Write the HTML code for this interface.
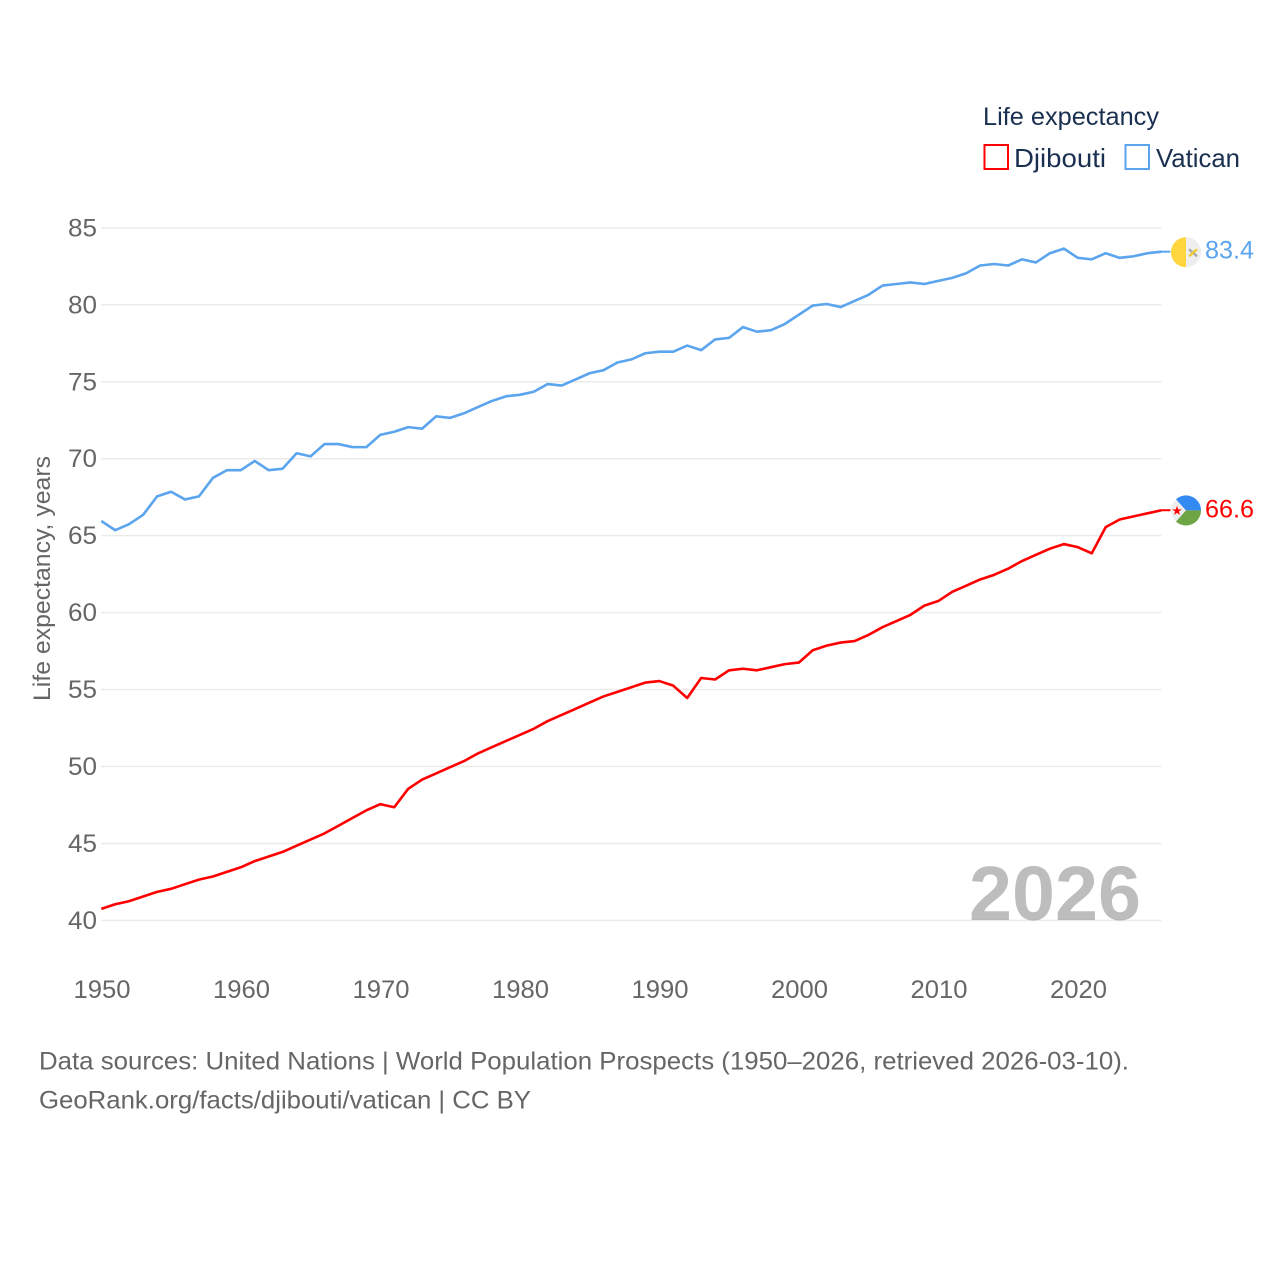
<!DOCTYPE html>
<html lang="en">
<head>
<meta charset="utf-8">
<title>Life expectancy: Djibouti and Vatican</title>
<style>
html,body{margin:0;padding:0;background:#fff;}
svg{display:block;font-family:"Liberation Sans",sans-serif;}
</style>
</head>
<body>
<svg id="chart" xmlns="http://www.w3.org/2000/svg" width="1280" height="1280" viewBox="0 0 1280 1280">
  <rect x="0" y="0" width="1280" height="1280" fill="#fff"/>
  <g id="grid"></g>
  <text x="969" y="920" font-size="77" font-weight="700" fill="#000" fill-opacity="0.26" textLength="172" lengthAdjust="spacingAndGlyphs">2026</text>
  <g id="yticks"></g>
  <g id="xticks"></g>
  <text transform="translate(50,701) rotate(-90)" font-size="24" fill="#666" textLength="245" lengthAdjust="spacingAndGlyphs">Life expectancy, years</text>
  <g id="series" transform="translate(0 -0.8)"></g>
  <g id="flags"></g>
  <g id="endlabels"></g>
  <g>
    <text x="983" y="125" font-size="25" fill="#1a3050" textLength="176" lengthAdjust="spacingAndGlyphs">Life expectancy</text>
    <g>
      <rect x="984.5" y="145" width="23.5" height="24" fill="none" stroke="#ff0000" stroke-width="2"/>
      <text x="1014" y="167" font-size="26" fill="#1a3050" textLength="92" lengthAdjust="spacingAndGlyphs">Djibouti</text>
    </g>
    <g>
      <rect x="1125.5" y="145" width="23.5" height="24" fill="none" stroke="#5ba4ee" stroke-width="2"/>
      <text x="1156" y="167" font-size="26" fill="#1a3050" textLength="84" lengthAdjust="spacingAndGlyphs">Vatican</text>
    </g>
  </g>
  <text x="39" y="1069.5" font-size="25" fill="#666" textLength="1090" lengthAdjust="spacingAndGlyphs">Data sources: United Nations | World Population Prospects (1950–2026, retrieved 2026-03-10).</text>
  <text x="39" y="1108.5" font-size="25" fill="#666" textLength="492" lengthAdjust="spacingAndGlyphs">GeoRank.org/facts/djibouti/vatican | CC BY</text>
</svg>
<script>
const startYear = 1950;
const yTickLabels = [40, 45, 50, 55, 60, 65, 70, 75, 80, 85];
const xTickLabels = [1950, 1960, 1970, 1980, 1990, 2000, 2010, 2020];
const vaticanValues = [65.9,65.3,65.7,66.3,67.5,67.8,67.3,67.5,68.7,69.2,
  69.2,69.8,69.2,69.3,70.3,70.1,70.9,70.9,70.7,70.7,
  71.5,71.7,72.0,71.9,72.7,72.6,72.9,73.3,73.7,74.0,
  74.1,74.3,74.8,74.7,75.1,75.5,75.7,76.2,76.4,76.8,
  76.9,76.9,77.3,77.0,77.7,77.8,78.5,78.2,78.3,78.7,
  79.3,79.9,80.0,79.8,80.2,80.6,81.2,81.3,81.4,81.3,
  81.5,81.7,82.0,82.5,82.6,82.5,82.9,82.7,83.3,83.6,
  83.0,82.9,83.3,83.0,83.1,83.3,83.4];
const djiboutiValues = [40.7,41.0,41.2,41.5,41.8,42.0,42.3,42.6,42.8,43.1,
  43.4,43.8,44.1,44.4,44.8,45.2,45.6,46.1,46.6,47.1,
  47.5,47.3,48.5,49.1,49.5,49.9,50.3,50.8,51.2,51.6,
  52.0,52.4,52.9,53.3,53.7,54.1,54.5,54.8,55.1,55.4,
  55.5,55.2,54.4,55.7,55.6,56.2,56.3,56.2,56.4,56.6,
  56.7,57.5,57.8,58.0,58.1,58.5,59.0,59.4,59.8,60.4,
  60.7,61.3,61.7,62.1,62.4,62.8,63.3,63.7,64.1,64.4,
  64.2,63.8,65.5,66.0,66.2,66.4,66.6];

const NS = 'http://www.w3.org/2000/svg';
function xScale(year) { return 101.3 + (year - 1950) * 13.95; }
function yScale(v) { return 920.4 - (v - 40) * 15.39; }
function make(tag, attrs, parent, text) {
  const el = document.createElementNS(NS, tag);
  for (const k in attrs) el.setAttribute(k, attrs[k]);
  if (text !== undefined) el.textContent = text;
  parent.appendChild(el);
  return el;
}
const grid = document.getElementById('grid');
const yticks = document.getElementById('yticks');
const xticks = document.getElementById('xticks');
const series = document.getElementById('series');
const flags = document.getElementById('flags');
const endlabels = document.getElementById('endlabels');

yTickLabels.forEach(function (t) {
  const line = make('line', {x1: 101, x2: 1161.5, y1: yScale(t), y2: yScale(t), stroke: '#ebebeb', 'stroke-width': 1.5}, grid);
  
  
  const label = make('text', {x: 97, y: yScale(t) + 8.5, 'text-anchor': 'end', 'font-size': 25, fill: '#666', textLength: 29, lengthAdjust: 'spacingAndGlyphs'}, yticks, String(t));
  
  
});
xTickLabels.forEach(function (t) {
  const label = make('text', {x: xScale(t) - 27.8, y: 998, 'font-size': 25, fill: '#666', textLength: 57, lengthAdjust: 'spacingAndGlyphs'}, xticks, String(t));
  
  
});
function pathFor(values) {
  return values.map(function (v, i) {
    return (i ? 'L' : 'M') + xScale(startYear + i).toFixed(2) + ' ' + yScale(v).toFixed(2);
  }).join('');
}
const vaticanLine = make('path', {d: pathFor(vaticanValues), fill: 'none', stroke: '#5ba4ee', 'stroke-width': 2.6, 'stroke-linejoin': 'round'}, series);


const djiboutiLine = make('path', {d: pathFor(djiboutiValues), fill: 'none', stroke: '#ff0000', 'stroke-width': 2.6, 'stroke-linejoin': 'round'}, series);



const vLast = vaticanValues[vaticanValues.length - 1];
const dLast = djiboutiValues[djiboutiValues.length - 1];
const endX = xScale(startYear + vaticanValues.length - 1);

const vStem = make('line', {x1: endX, x2: endX + 9, y1: yScale(vLast), y2: yScale(vLast), stroke: '#5ba4ee', 'stroke-width': 2}, series);


const dStem = make('line', {x1: endX, x2: endX + 9, y1: yScale(dLast), y2: yScale(dLast), stroke: '#ff0000', 'stroke-width': 2}, series);



/* Vatican flag */
const vy = yScale(vLast) - 0.2;
const vGroup = make('g', {transform: 'translate(1186 ' + vy + ')'}, flags);


make('circle', {cx: 0, cy: 0, r: 15, fill: '#eeeeee'}, vGroup);
make('path', {d: 'M0 -15A15 15 0 0 0 0 15Z', fill: '#ffd63e'}, vGroup);
make('line', {x1: 3, y1: -3, x2: 11, y2: 4, stroke: '#a8a8a8', 'stroke-width': 2.4}, vGroup);
make('line', {x1: 3, y1: 4, x2: 11, y2: -3, stroke: '#f0c830', 'stroke-width': 2.4}, vGroup);

/* Djibouti flag */
const dy = yScale(dLast) - 0.6;
const dGroup = make('g', {transform: 'translate(1186 ' + dy + ')'}, flags);


make('circle', {cx: 0, cy: 0, r: 15, fill: '#eeeeee'}, dGroup);
make('path', {d: 'M-10 -11.2A15 15 0 0 1 15 0L0 0Z', fill: '#338af3'}, dGroup);
make('path', {d: 'M-10 11.2A15 15 0 0 0 15 0L0 0Z', fill: '#6da544'}, dGroup);
make('polygon', {points: '0,-5 1.2,-1.6 4.8,-1.5 1.9,0.6 3,4 0,2 -3,4 -1.9,0.6 -4.8,-1.5 -1.2,-1.6', fill: '#ff0000', transform: 'translate(-9 0.5)'}, dGroup);

const vLabel = make('text', {x: 1205, y: yScale(vLast) + 6.1, 'font-size': 25, fill: '#5ba4ee', textLength: 49, lengthAdjust: 'spacingAndGlyphs'}, endlabels, vLast.toFixed(1));


const dLabel = make('text', {x: 1205, y: yScale(dLast) + 6.3, 'font-size': 25, fill: '#ff0000', textLength: 49, lengthAdjust: 'spacingAndGlyphs'}, endlabels, dLast.toFixed(1));


</script>
</body>
</html>
